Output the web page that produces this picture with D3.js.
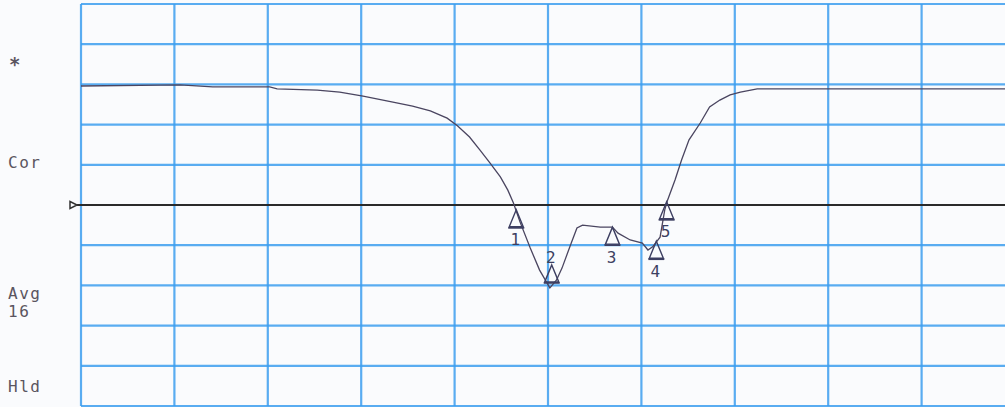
<!DOCTYPE html>
<html>
<head>
<meta charset="utf-8">
<script src="https://cdn.jsdelivr.net/npm/d3@7"></script>
<style>
  html, body { margin: 0; padding: 0; background: #fafbfd; }
  svg { display: block; }
</style>
</head>
<body>
<div id="chart"></div>
<script>
/* Spectrum analyzer screen capture — D3 v7 */

// trace, in graticule divisions (x from left, y from top)
var traceX = [0, 1.06, 1.41, 2.02, 2.10, 2.53, 2.77, 3.02, 3.34, 3.55, 3.74, 3.92, 4.03, 4.16, 4.27,
  4.38, 4.49, 4.57, 4.63, 4.70, 4.81, 4.91, 5.02, 5.09, 5.15, 5.24, 5.31, 5.37, 5.56, 5.69, 5.75,
  5.88, 6.01, 6.07, 6.12, 6.20, 6.25, 6.28, 6.36, 6.43, 6.51, 6.63, 6.73, 6.84, 6.95, 7.06, 7.24,
  7.70, 10];
var traceY = [2.04, 2.01, 2.06, 2.06, 2.11, 2.14, 2.19, 2.29, 2.44, 2.54, 2.66, 2.84, 3.03, 3.31, 3.63,
  3.96, 4.30, 4.63, 4.95, 5.42, 6.07, 6.62, 7.06, 6.87, 6.57, 6.00, 5.57, 5.50, 5.55, 5.55, 5.70,
  5.87, 5.95, 6.12, 6.04, 5.80, 5.12, 4.88, 4.38, 3.88, 3.38, 2.96, 2.56, 2.39, 2.26, 2.19, 2.11,
  2.11, 2.11];

// markers
var markerLabels = ["1", "2", "3", "4", "5"];
var markerX = [4.66, 5.04, 5.69, 6.16, 6.27];
var markerY = [5.12, 6.49, 5.55, 5.90, 4.92];
var markerLabelSide = ["below", "above", "below", "below", "below"];

var refLevel = 5.0;

// left annotations
var sideLabels = ["*", "Cor", "Avg", "16", "Hld"];
var sideLabelY = [1.5, 3.95, 7.2, 7.65, 9.5];

var W = 1005, H = 407;
var x = d3.scaleLinear().domain([0, 10]).range([81, 1015]);
var y = d3.scaleLinear().domain([0, 10]).range([4, 406]);

var svg = d3.select("#chart").append("svg").attr("width", W).attr("height", H);
svg.append("rect").attr("width", W).attr("height", H).attr("fill", "#fafbfd");

// ── Graticule ───────────────────────────────────────────────────────────────
var grid = svg.append("g");
var divs = d3.range(0, 11);
grid.selectAll(".v").data(divs).enter().append("line")
  .attr("x1", function (d) { return x(d); }).attr("x2", function (d) { return x(d); })
  .attr("y1", y(0)).attr("y2", y(10))
  .attr("stroke", "#3c9eee").attr("stroke-width", 2.2).attr("stroke-opacity", 0.85);
grid.selectAll(".h").data(divs.filter(function (d) { return d !== refLevel; })).enter().append("line")
  .attr("x1", x(0)).attr("x2", x(10))
  .attr("y1", function (d) { return y(d); }).attr("y2", function (d) { return y(d); })
  .attr("stroke", "#3c9eee").attr("stroke-width", 2.2).attr("stroke-opacity", 0.85);

// ── Reference line ──────────────────────────────────────────────────────────
svg.append("line")
  .attr("x1", x(0) - 4).attr("x2", W)
  .attr("y1", y(refLevel)).attr("y2", y(refLevel))
  .attr("stroke", "#2a2a2a").attr("stroke-width", 2);
svg.append("path")
  .attr("d", "M" + (x(0) - 11) + "," + (y(refLevel) - 3.5) +
             "L" + (x(0) - 4) + "," + y(refLevel) +
             "L" + (x(0) - 11) + "," + (y(refLevel) + 3.5) + "Z")
  .attr("fill", "#fafbfd").attr("stroke", "#333").attr("stroke-width", 1.5);

// ── Side labels ─────────────────────────────────────────────────────────────
svg.append("g").selectAll("text").data(sideLabels).enter().append("text")
  .attr("x", function (d) { return d === "*" ? 9 : 8; })
  .attr("y", function (d, i) { return y(sideLabelY[i]); })
  .attr("dy", "0.35em")
  .attr("fill", "#5a5560")
  .style("font-family", "'DejaVu Sans Mono', monospace")
  .style("font-size", function (d) { return d === "*" ? "19px" : "16px"; })
  .style("letter-spacing", "1.5px")
  .style("font-weight", function (d) { return d === "*" ? "bold" : "normal"; })
  .text(function (d) { return d; });

// ── Trace ───────────────────────────────────────────────────────────────────
var trace = traceX.map(function (v, i) { return [v, traceY[i]]; });
svg.append("path").datum(trace)
  .attr("fill", "none").attr("stroke", "#4a4560").attr("stroke-width", 1.3)
  .attr("d", d3.line().x(function (d) { return x(d[0]); }).y(function (d) { return y(d[1]); }));

// ── Markers ─────────────────────────────────────────────────────────────────
var mk = svg.append("g").selectAll("g").data(markerLabels).enter().append("g")
  .attr("transform", function (d, i) { return "translate(" + x(markerX[i]) + "," + y(markerY[i]) + ")"; });
mk.append("path")
  .attr("d", "M0,0L7,17L-7,17Z")
  .attr("fill", "none").attr("stroke", "#3d3f62").attr("stroke-width", 1.4);
mk.append("line")
  .attr("x1", -8).attr("x2", 8).attr("y1", 18).attr("y2", 18)
  .attr("stroke", "#3d3f62").attr("stroke-width", 1.8);
mk.append("text")
  .attr("x", -1)
  .attr("y", function (d, i) { return markerLabelSide[i] === "above" ? -8 : 30; })
  .attr("text-anchor", "middle").attr("dy", "0.35em")
  .attr("fill", "#3d3f62")
  .style("font-family", "'DejaVu Sans Mono', monospace")
  .style("font-size", "16px")
  .text(function (d) { return d; });
</script>
</body>
</html>
